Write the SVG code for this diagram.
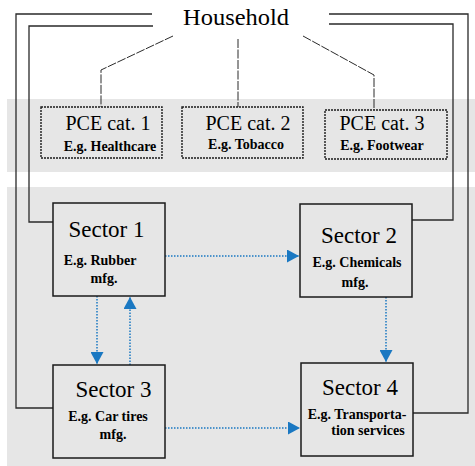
<svg xmlns="http://www.w3.org/2000/svg" width="475" height="466" viewBox="0 0 475 466">
<style>
.band{fill:#e6e6e6}
.wire{fill:none;stroke:#2a2a2a;stroke-width:1.3}
.dash{fill:none;stroke:#2a2a2a;stroke-width:1;stroke-dasharray:9,1.5}
.pce{fill:none;stroke:#1a1a1a;stroke-width:1.4;stroke-dasharray:2,1}
.sec{fill:none;stroke:#1a1a1a;stroke-width:1.5}
.flow{fill:none;stroke:#1a78c2;stroke-width:1.5;stroke-dasharray:1.5,1.5;marker-end:url(#arr)}
text{font-family:'Liberation Serif','Times New Roman',serif;fill:#000;text-anchor:middle}
.h{font-size:24px}
.t{font-size:20px}
.s{font-size:23px}
.e{font-size:14px;font-weight:bold}
</style>
<defs>
<marker id="arr" viewBox="0 0 12 13" refX="12" refY="6.5" markerWidth="12" markerHeight="13" orient="auto" markerUnits="userSpaceOnUse"><path d="M0,0 L12,6.5 L0,13 z" fill="#1a78c2"/></marker>
</defs>
<rect class="band" x="7" y="99" width="468" height="73"/>
<rect class="band" x="7" y="187" width="468" height="279"/>
<g id="connectors">
<path class="wire" d="M152,14 H16 V408 H53"/>
<path class="wire" d="M153,26 H29 V222 H53"/>
<path class="wire" d="M329,14 H468 V413 H413"/>
<path class="wire" d="M329,24 H453 V220 H412"/>
<path class="dash" d="M173,36 L101,70 V107"/>
<path class="dash" d="M238,39 V107"/>
<path class="dash" d="M303,36 L374,75 V110"/>
<path class="flow" d="M165,256 H299"/>
<path class="flow" d="M97,296 V364"/>
<path class="flow" d="M130,365 V297"/>
<path class="flow" d="M386,297 V362"/>
<path class="flow" d="M165,428 H300"/>
</g>
<g id="household"><text class="h" x="236" y="25" textLength="106" lengthAdjust="spacingAndGlyphs">Household</text></g>
<g id="pce1"><rect class="pce" x="41" y="107" width="121" height="51"/><text class="t" x="108" y="130">PCE cat. 1</text><text class="e" x="110" y="151">E.g. Healthcare</text></g>
<g id="pce2"><rect class="pce" x="182" y="107" width="121" height="51"/><text class="t" x="248" y="130">PCE cat. 2</text><text class="e" x="246" y="149">E.g. Tobacco</text></g>
<g id="pce3"><rect class="pce" x="325" y="110" width="122" height="49"/><text class="t" x="382" y="130">PCE cat. 3</text><text class="e" x="382" y="150">E.g. Footwear</text></g>
<g id="sector1"><rect class="sec" x="53" y="203" width="112" height="93"/><text class="s" x="106.5" y="237">Sector 1</text><text class="e" x="100" y="265">E.g. Rubber</text><text class="e" x="104" y="283">mfg.</text></g>
<g id="sector2"><rect class="sec" x="300" y="204" width="112" height="93"/><text class="s" x="359" y="243">Sector 2</text><text class="e" x="357" y="267">E.g. Chemicals</text><text class="e" x="355" y="287">mfg.</text></g>
<g id="sector3"><rect class="sec" x="53" y="365" width="112" height="93"/><text class="s" x="113.5" y="397">Sector 3</text><text class="e" x="108" y="421">E.g. Car tires</text><text class="e" x="113" y="439">mfg.</text></g>
<g id="sector4"><rect class="sec" x="301" y="363" width="112" height="93"/><text class="s" x="360" y="395">Sector 4</text><text class="e" x="357" y="419">E.g. Transporta-</text><text class="e" x="368" y="435">tion services</text></g>
</svg>
